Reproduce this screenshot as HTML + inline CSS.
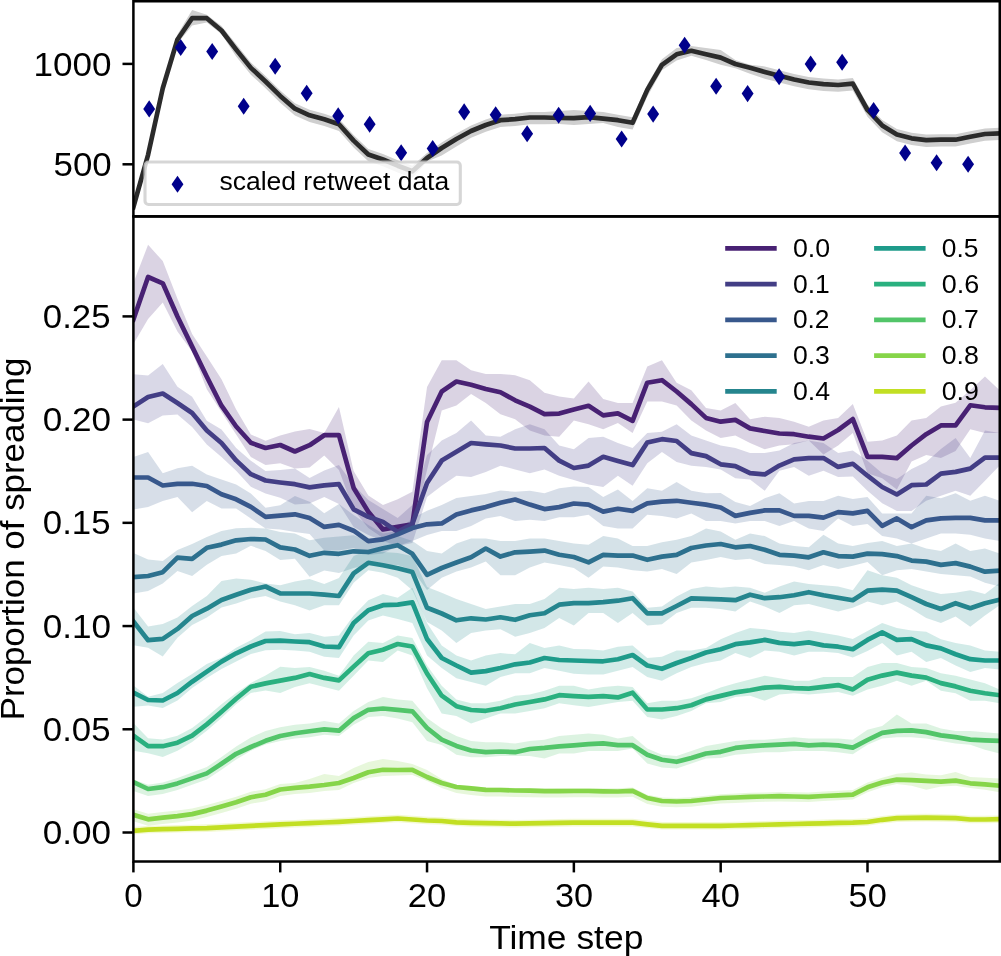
<!DOCTYPE html>
<html><head><meta charset="utf-8"><title>Proportion of spreading</title>
<style>html,body{margin:0;padding:0;background:#fff;width:1001px;height:956px;overflow:hidden}
text{font-family:"Liberation Sans",sans-serif}
svg{will-change:transform}</style></head>
<body>
<svg width="1001" height="956" viewBox="0 0 1001 956" style="display:block">
<defs><clipPath id="cb"><rect x="133.40" y="216.40" width="866.35" height="645.10"/></clipPath>
<clipPath id="ct"><rect x="133.40" y="1.25" width="866.35" height="215.15"/></clipPath></defs>
<rect width="1001" height="956" fill="#fff"/>
<g clip-path="url(#cb)">
<polygon points="133.40,283.00 148.08,244.80 162.76,261.10 177.45,298.80 192.13,334.00 206.81,356.60 221.49,379.20 236.17,409.40 250.86,434.50 265.54,440.80 280.22,435.40 294.90,431.60 309.58,429.10 324.27,432.90 338.95,407.00 353.63,471.00 368.31,495.50 382.99,504.90 397.68,499.20 412.36,491.70 427.04,387.00 441.72,360.20 456.40,360.20 471.09,370.20 485.77,374.00 500.45,374.00 515.13,375.20 529.81,380.30 544.50,392.80 559.18,396.60 573.86,398.50 588.54,381.50 603.22,399.10 617.91,402.90 632.59,402.90 647.27,366.40 661.95,360.20 676.63,382.80 691.32,390.30 706.00,407.90 720.68,410.40 735.36,402.90 750.04,419.20 764.73,416.70 779.41,417.90 794.09,421.70 808.77,426.70 823.45,420.50 838.14,417.90 852.82,404.10 867.50,441.80 882.18,440.50 896.86,435.50 911.55,420.40 926.23,417.90 940.91,406.60 955.59,402.80 970.27,390.30 984.96,376.40 999.64,390.30 999.64,433.00 984.96,433.00 970.27,429.20 955.59,451.00 940.91,458.00 926.23,455.00 911.55,461.50 896.86,489.50 882.18,478.20 867.50,473.20 852.82,433.00 838.14,445.60 823.45,454.40 808.77,440.60 794.09,444.30 779.41,445.60 764.73,449.30 750.04,443.10 735.36,435.50 720.68,438.00 706.00,430.50 691.32,420.50 676.63,405.40 661.95,401.60 647.27,401.60 632.59,433.00 617.91,423.00 603.22,429.20 588.54,424.20 573.86,420.50 559.18,436.80 544.50,435.50 529.81,430.50 515.13,419.20 500.45,414.20 485.77,402.90 471.09,394.10 456.40,405.40 441.72,410.40 427.04,470.00 412.36,531.20 397.68,533.10 382.99,538.00 368.31,528.00 353.63,510.00 338.95,470.00 324.27,455.50 309.58,467.50 294.90,468.40 280.22,463.30 265.54,465.00 250.86,457.10 236.17,434.50 221.49,411.90 206.81,389.30 192.13,351.60 177.45,331.50 162.76,302.60 148.08,318.90 133.40,344.00" fill="#482173" fill-opacity="0.2"/>
<polygon points="133.40,374.20 148.08,375.40 162.76,364.10 177.45,386.80 192.13,396.80 206.81,420.70 221.49,429.50 236.17,448.00 250.86,460.70 265.54,470.90 280.22,470.00 294.90,468.40 309.58,478.00 324.27,470.60 338.95,465.00 353.63,485.00 368.31,500.00 382.99,509.00 397.68,518.00 412.36,505.00 427.04,455.00 441.72,440.60 456.40,433.00 471.09,420.50 485.77,435.50 500.45,436.80 515.13,429.20 529.81,424.20 544.50,429.20 559.18,445.60 573.86,449.30 588.54,438.00 603.22,436.80 617.91,443.10 632.59,448.10 647.27,433.00 661.95,431.80 676.63,424.20 691.32,435.50 706.00,440.60 720.68,445.60 735.36,448.10 750.04,453.10 764.73,453.10 779.41,450.60 794.09,443.10 808.77,440.60 823.45,443.10 838.14,453.10 852.82,450.60 867.50,460.70 882.18,473.20 896.86,479.00 911.55,469.00 926.23,462.00 940.91,449.00 955.59,438.00 970.27,458.10 984.96,430.50 999.64,433.00 999.64,465.60 984.96,480.70 970.27,495.80 955.59,490.80 940.91,495.80 926.23,500.80 911.55,510.90 896.86,510.90 882.18,503.30 867.50,490.80 852.82,476.50 838.14,477.00 823.45,470.70 808.77,475.70 794.09,466.90 779.41,470.70 764.73,490.80 750.04,479.50 735.36,478.20 720.68,469.50 706.00,466.90 691.32,465.70 676.63,461.90 661.95,451.90 647.27,463.20 632.59,485.80 617.91,475.70 603.22,487.00 588.54,484.50 573.86,480.00 559.18,475.70 544.50,469.40 529.81,473.20 515.13,469.40 500.45,465.70 485.77,472.00 471.09,477.00 456.40,475.70 441.72,485.80 427.04,497.00 412.36,543.00 397.68,546.00 382.99,541.00 368.31,535.00 353.63,527.00 338.95,504.00 324.27,497.00 309.58,503.50 294.90,504.40 280.22,497.70 265.54,493.50 250.86,486.80 236.17,470.70 221.49,457.10 206.81,444.50 192.13,427.00 177.45,414.40 162.76,415.60 148.08,423.20 133.40,419.40" fill="#433e85" fill-opacity="0.2"/>
<polygon points="133.40,456.90 148.08,451.90 162.76,473.20 177.45,468.20 192.13,465.70 206.81,474.50 221.49,479.50 236.17,484.50 250.86,493.50 265.54,507.70 280.22,505.20 294.90,496.00 309.58,501.80 324.27,513.30 338.95,504.00 353.63,515.00 368.31,525.00 382.99,533.40 397.68,530.90 412.36,518.30 427.04,510.80 441.72,505.00 456.40,498.00 471.09,496.00 485.77,494.00 500.45,490.60 515.13,491.70 529.81,490.80 544.50,493.30 559.18,488.30 573.86,486.50 588.54,487.00 603.22,497.10 617.91,489.50 632.59,500.90 647.27,488.30 661.95,490.80 676.63,482.00 691.32,490.80 706.00,493.30 720.68,493.00 735.36,502.10 750.04,505.90 764.73,498.30 779.41,493.30 794.09,503.40 808.77,500.90 823.45,500.90 838.14,495.80 852.82,499.00 867.50,497.00 882.18,513.40 896.86,513.40 911.55,513.40 926.23,495.80 940.91,498.30 955.59,493.30 970.27,500.80 984.96,495.80 999.64,500.80 999.64,541.00 984.96,538.50 970.27,534.70 955.59,533.50 940.91,533.50 926.23,538.50 911.55,543.50 896.86,538.50 882.18,536.00 867.50,524.00 852.82,526.00 838.14,518.40 823.45,531.00 808.77,528.50 794.09,521.00 779.41,526.00 764.73,521.00 750.04,521.00 735.36,523.50 720.68,521.00 706.00,521.00 691.32,513.40 676.63,518.40 661.95,515.90 647.27,514.70 632.59,528.50 617.91,528.50 603.22,526.00 588.54,514.70 573.86,517.20 559.18,517.20 544.50,521.00 529.81,519.70 515.13,521.00 500.45,515.90 485.77,518.40 471.09,526.00 456.40,531.00 441.72,531.00 427.04,535.00 412.36,540.90 397.68,545.90 382.99,553.50 368.31,555.00 353.63,547.90 338.95,550.40 324.27,550.40 309.58,534.00 294.90,532.00 280.22,529.50 265.54,528.60 250.86,518.60 236.17,508.40 221.49,508.40 206.81,500.90 192.13,512.20 177.45,497.00 162.76,500.90 148.08,507.10 133.40,509.60" fill="#38588c" fill-opacity="0.2"/>
<polygon points="133.40,553.00 148.08,559.60 162.76,561.00 177.45,550.00 192.13,544.00 206.81,537.00 221.49,531.00 236.17,528.30 250.86,527.80 265.54,528.60 280.22,532.00 294.90,533.60 309.58,540.30 324.27,537.80 338.95,536.60 353.63,535.30 368.31,540.90 382.99,535.90 397.68,535.90 412.36,540.90 427.04,551.00 441.72,553.60 456.40,543.60 471.09,538.50 485.77,538.50 500.45,541.00 515.13,541.00 529.81,538.50 544.50,538.50 559.18,541.00 573.86,543.60 588.54,544.80 603.22,536.00 617.91,538.50 632.59,546.10 647.27,546.10 661.95,542.30 676.63,539.80 691.32,536.00 706.00,528.50 720.68,531.60 735.36,539.80 750.04,533.50 764.73,536.00 779.41,543.60 794.09,546.10 808.77,547.30 823.45,534.80 838.14,543.60 852.82,546.00 867.50,543.00 882.18,541.00 896.86,546.00 911.55,543.50 926.23,548.50 940.91,551.00 955.59,543.50 970.27,551.00 984.96,548.50 999.64,553.60 999.64,586.50 984.96,582.70 970.27,576.40 955.59,575.20 940.91,573.90 926.23,571.40 911.55,568.90 896.86,570.20 882.18,575.20 867.50,562.00 852.82,565.70 838.14,568.90 823.45,565.10 808.77,570.20 794.09,566.40 779.41,565.10 764.73,563.90 750.04,558.80 735.36,560.10 720.68,556.90 706.00,560.10 691.32,562.60 676.63,573.90 661.95,568.90 647.27,571.40 632.59,570.20 617.91,567.60 603.22,566.40 588.54,577.70 573.86,568.00 559.18,565.10 544.50,562.60 529.81,567.60 515.13,575.20 500.45,575.20 485.77,561.40 471.09,567.60 456.40,571.40 441.72,577.70 427.04,590.00 412.36,570.00 397.68,565.00 382.99,566.00 368.31,565.00 353.63,568.00 338.95,573.00 324.27,570.50 309.58,576.80 294.90,558.80 280.22,560.00 265.54,550.90 250.86,545.80 236.17,553.40 221.49,555.90 206.81,564.70 192.13,576.00 177.45,571.00 162.76,583.50 148.08,591.00 133.40,593.60" fill="#2d708e" fill-opacity="0.2"/>
<polygon points="133.40,607.50 148.08,626.40 162.76,623.90 177.45,617.60 192.13,606.00 206.81,596.00 221.49,581.00 236.17,578.50 250.86,579.70 265.54,583.50 280.22,585.20 294.90,581.50 309.58,579.00 324.27,584.00 338.95,578.00 353.63,556.00 368.31,550.00 382.99,552.00 397.68,553.00 412.36,556.00 427.04,587.00 441.72,592.80 456.40,599.00 471.09,604.10 485.77,609.10 500.45,606.60 515.13,604.10 529.81,604.10 544.50,599.00 559.18,587.70 573.86,589.00 588.54,587.70 603.22,589.00 617.91,587.70 632.59,591.50 647.27,607.80 661.95,606.60 676.63,596.50 691.32,589.00 706.00,586.50 720.68,587.70 735.36,586.50 750.04,587.70 764.73,592.80 779.41,586.50 794.09,581.50 808.77,584.00 823.45,585.20 838.14,586.50 852.82,590.30 867.50,570.20 882.18,575.20 896.86,577.70 911.55,585.20 926.23,590.30 940.91,594.00 955.59,592.80 970.27,590.30 984.96,594.00 999.64,582.70 999.64,605.30 984.96,615.40 970.27,626.70 955.59,616.60 940.91,622.90 926.23,617.90 911.55,609.10 896.86,601.60 882.18,605.30 867.50,601.50 852.82,607.80 838.14,611.60 823.45,607.80 808.77,604.10 794.09,605.30 779.41,612.90 764.73,606.60 750.04,601.60 735.36,611.60 720.68,609.10 706.00,607.80 691.32,607.80 676.63,612.90 661.95,624.20 647.27,625.40 632.59,612.90 617.91,622.90 603.22,612.90 588.54,612.90 573.86,625.40 559.18,617.90 544.50,627.90 529.81,633.00 515.13,636.70 500.45,629.20 485.77,630.50 471.09,633.00 456.40,643.00 441.72,630.50 427.04,622.00 412.36,590.30 397.68,577.70 382.99,572.70 368.31,570.20 353.63,582.70 338.95,605.30 324.27,605.30 309.58,610.40 294.90,605.30 280.22,601.60 265.54,596.00 250.86,598.60 236.17,603.60 221.49,607.40 206.81,617.60 192.13,625.00 177.45,637.70 162.76,656.50 148.08,647.70 133.40,645.20" fill="#25858e" fill-opacity="0.2"/>
<polygon points="133.40,685.40 148.08,696.70 162.76,693.00 177.45,682.90 192.13,674.10 206.81,664.00 221.49,657.80 236.17,647.70 250.86,640.20 265.54,631.40 280.22,631.00 294.90,634.20 309.58,633.00 324.27,636.70 338.95,635.50 353.63,615.40 368.31,600.30 382.99,594.00 397.68,597.80 412.36,587.70 427.04,622.90 441.72,645.50 456.40,655.60 471.09,660.60 485.77,655.60 500.45,653.10 515.13,654.30 529.81,643.00 544.50,648.00 559.18,645.50 573.86,649.00 588.54,649.30 603.22,650.60 617.91,646.80 632.59,645.50 647.27,658.10 661.95,656.80 676.63,650.60 691.32,650.60 706.00,648.00 720.68,639.20 735.36,633.00 750.04,627.90 764.73,629.20 779.41,631.70 794.09,633.00 808.77,630.50 823.45,633.00 838.14,635.50 852.82,639.00 867.50,631.00 882.18,622.90 896.86,627.90 911.55,630.50 926.23,631.70 940.91,639.20 955.59,643.00 970.27,645.50 984.96,650.60 999.64,651.80 999.64,669.40 984.96,668.10 970.27,671.90 955.59,665.60 940.91,658.10 926.23,661.90 911.55,651.80 896.86,655.60 882.18,643.00 867.50,651.00 852.82,657.50 838.14,653.10 823.45,651.80 808.77,651.80 794.09,655.60 779.41,651.80 764.73,650.60 750.04,658.10 735.36,653.10 720.68,660.60 706.00,663.10 691.32,666.90 676.63,673.20 661.95,680.70 647.27,676.90 632.59,666.90 617.91,670.70 603.22,674.40 588.54,674.40 573.86,673.80 559.18,670.70 544.50,668.10 529.81,673.20 515.13,673.20 500.45,676.90 485.77,685.70 471.09,682.00 456.40,678.20 441.72,668.10 427.04,655.60 412.36,622.90 397.68,619.10 382.99,615.40 368.31,620.40 353.63,635.50 338.95,658.10 324.27,656.80 309.58,651.80 294.90,650.60 280.22,649.80 265.54,650.30 250.86,654.00 236.17,661.60 221.49,669.10 206.81,677.90 192.13,688.00 177.45,700.50 162.76,708.00 148.08,705.50 133.40,706.80" fill="#1e9b8a" fill-opacity="0.2"/>
<polygon points="133.40,723.10 148.08,738.20 162.76,739.40 177.45,735.70 192.13,728.10 206.81,716.80 221.49,704.30 236.17,693.00 250.86,682.90 265.54,675.40 280.22,666.80 294.90,668.10 309.58,666.90 324.27,670.70 338.95,675.70 353.63,655.60 368.31,641.80 382.99,643.00 397.68,635.50 412.36,638.00 427.04,665.60 441.72,685.70 456.40,699.50 471.09,703.30 485.77,703.30 500.45,700.80 515.13,695.80 529.81,694.50 544.50,690.80 559.18,685.70 573.86,685.70 588.54,689.50 603.22,687.00 617.91,685.70 632.59,687.00 647.27,703.30 661.95,700.80 676.63,700.80 691.32,698.30 706.00,693.30 720.68,687.60 735.36,683.20 750.04,679.40 764.73,675.70 779.41,678.20 794.09,680.70 808.77,680.70 823.45,676.90 838.14,676.90 852.82,676.90 867.50,667.00 882.18,663.10 896.86,663.10 911.55,666.90 926.23,668.10 940.91,673.20 955.59,675.70 970.27,679.40 984.96,683.20 999.64,689.50 999.64,703.30 984.96,700.80 970.27,700.80 955.59,693.30 940.91,690.80 926.23,680.70 911.55,685.70 896.86,680.70 882.18,685.70 867.50,689.50 852.82,695.80 838.14,692.00 823.45,693.30 808.77,694.50 794.09,693.30 779.41,694.50 764.73,700.80 750.04,695.80 735.36,697.00 720.68,702.00 706.00,703.30 691.32,710.90 676.63,715.90 661.95,719.60 647.27,717.10 632.59,700.80 617.91,702.10 603.22,704.60 588.54,707.10 573.86,705.20 559.18,703.30 544.50,708.30 529.81,710.90 515.13,713.40 500.45,713.40 485.77,718.40 471.09,723.40 456.40,715.90 441.72,713.40 427.04,688.20 412.36,655.60 397.68,650.60 382.99,661.90 368.31,660.60 353.63,675.70 338.95,690.80 324.27,687.00 309.58,683.20 294.90,687.00 280.22,693.10 265.54,690.50 250.86,693.00 236.17,704.30 221.49,718.10 206.81,730.70 192.13,742.00 177.45,750.80 162.76,757.00 148.08,753.30 133.40,750.80" fill="#2ab07f" fill-opacity="0.2"/>
<polygon points="133.40,779.60 148.08,784.70 162.76,782.40 177.45,778.10 192.13,772.60 206.81,767.10 221.49,757.00 236.17,746.50 250.86,737.40 265.54,731.10 280.22,727.20 294.90,724.70 309.58,723.40 324.27,720.90 338.95,723.40 353.63,710.90 368.31,702.10 382.99,697.00 397.68,699.50 412.36,700.80 427.04,718.00 441.72,728.40 456.40,736.00 471.09,741.00 485.77,742.30 500.45,742.30 515.13,743.50 529.81,741.00 544.50,739.70 559.18,736.00 573.86,734.70 588.54,733.50 603.22,734.70 617.91,738.50 632.59,736.00 647.27,748.50 661.95,754.80 676.63,756.10 691.32,751.00 706.00,746.00 720.68,743.50 735.36,741.00 750.04,739.70 764.73,739.70 779.41,738.50 794.09,737.20 808.77,738.50 823.45,738.50 838.14,738.50 852.82,739.70 867.50,729.70 882.18,725.90 896.86,714.60 911.55,723.40 926.23,723.40 940.91,728.40 955.59,731.00 970.27,731.00 984.96,732.20 999.64,733.50 999.64,753.60 984.96,749.80 970.27,744.80 955.59,743.50 940.91,741.00 926.23,738.50 911.55,737.20 896.86,737.20 882.18,738.50 867.50,744.80 852.82,754.20 838.14,752.30 823.45,751.00 808.77,751.00 794.09,751.00 779.41,752.30 764.73,752.30 750.04,753.60 735.36,754.80 720.68,758.00 706.00,758.60 691.32,763.60 676.63,768.60 661.95,767.40 647.27,763.60 632.59,748.50 617.91,751.00 603.22,751.00 588.54,751.00 573.86,753.60 559.18,753.60 544.50,758.60 529.81,756.10 515.13,756.10 500.45,756.10 485.77,757.30 471.09,757.30 456.40,754.80 441.72,745.00 427.04,741.00 412.36,722.20 397.68,718.40 382.99,715.90 368.31,717.10 353.63,724.70 338.95,736.00 324.27,734.70 309.58,737.20 294.90,738.50 280.22,741.00 265.54,744.62 250.86,750.64 236.17,759.47 221.49,769.69 206.81,779.51 192.13,784.73 177.45,789.96 162.76,793.98 148.08,796.00 133.40,791.00" fill="#52c569" fill-opacity="0.2"/>
<polygon points="133.40,809.30 148.08,813.80 162.76,812.10 177.45,810.60 192.13,808.60 206.81,805.10 221.49,801.00 236.17,796.80 250.86,791.70 265.54,789.20 280.22,784.00 294.90,783.00 309.58,779.00 324.27,774.00 338.95,776.00 353.63,768.00 368.31,762.00 382.99,759.00 397.68,761.00 412.36,764.00 427.04,770.00 441.72,779.00 456.40,785.00 471.09,786.00 485.77,787.51 500.45,787.52 515.13,787.93 529.81,788.04 544.50,788.45 559.18,788.36 573.86,788.08 588.54,787.99 603.22,788.20 617.91,788.31 632.59,787.52 647.27,794.63 661.95,797.54 676.63,797.95 691.32,797.36 706.00,795.77 720.68,794.18 735.36,793.59 750.04,792.80 764.73,792.41 779.41,792.03 794.09,792.24 808.77,792.45 823.45,791.56 838.14,790.77 852.82,789.98 867.50,782.59 882.18,777.70 896.86,773.70 911.55,772.50 926.23,774.50 940.91,775.30 955.59,772.00 970.27,776.90 984.96,777.70 999.64,778.50 999.64,792.20 984.96,789.80 970.27,788.10 955.59,785.70 940.91,786.50 926.23,789.80 911.55,785.70 896.86,784.10 882.18,787.30 867.50,792.17 852.82,799.54 838.14,800.30 823.45,801.07 808.77,801.94 794.09,801.71 779.41,801.48 764.73,801.84 750.04,802.21 735.36,802.98 720.68,803.55 706.00,805.11 691.32,806.68 676.63,807.25 661.95,806.82 647.27,803.89 632.59,796.75 617.91,797.52 603.22,797.39 588.54,797.16 573.86,797.23 559.18,797.49 544.50,797.56 529.81,797.13 515.13,797.00 500.45,796.56 485.77,796.53 471.09,795.00 456.40,793.00 441.72,788.00 427.04,781.00 412.36,775.00 397.68,775.60 382.99,776.00 368.31,778.00 353.63,783.00 338.95,790.00 324.27,791.00 309.58,793.00 294.90,794.00 280.22,796.00 265.54,801.20 250.86,803.70 236.17,808.80 221.49,813.00 206.81,817.10 192.13,820.60 177.45,822.60 162.76,824.10 148.08,825.80 133.40,821.30" fill="#86d549" fill-opacity="0.2"/>
<polygon points="133.40,827.00 148.08,825.74 162.76,825.38 177.45,825.02 192.13,824.66 206.81,824.30 221.49,823.56 236.17,822.82 250.86,822.08 265.54,821.34 280.22,820.60 294.90,819.98 309.58,819.35 324.27,818.73 338.95,818.10 353.63,817.23 368.31,816.37 382.99,815.50 397.68,814.70 412.36,815.70 427.04,816.70 441.72,817.20 456.40,818.50 471.09,819.10 485.77,819.40 500.45,819.65 515.13,819.90 529.81,819.65 544.50,819.40 559.18,819.10 573.86,818.80 588.54,818.80 603.22,818.80 617.91,818.80 632.59,818.80 647.27,820.50 661.95,822.00 676.63,822.00 691.32,822.00 706.00,822.00 720.68,822.00 735.36,821.70 750.04,821.40 764.73,820.95 779.41,820.50 794.09,820.20 808.77,819.90 823.45,819.50 838.14,819.10 852.82,818.90 867.50,818.20 882.18,816.00 896.86,814.40 911.55,814.10 926.23,813.80 940.91,814.10 955.59,814.40 970.27,815.70 984.96,815.70 999.64,815.40 999.64,823.00 984.96,823.30 970.27,823.30 955.59,822.00 940.91,821.70 926.23,821.40 911.55,821.70 896.86,822.00 882.18,823.60 867.50,825.80 852.82,826.50 838.14,826.70 823.45,827.10 808.77,827.50 794.09,827.80 779.41,828.10 764.73,828.55 750.04,829.00 735.36,829.30 720.68,829.60 706.00,829.60 691.32,829.60 676.63,829.60 661.95,829.60 647.27,828.10 632.59,826.40 617.91,826.40 603.22,826.40 588.54,826.40 573.86,826.40 559.18,826.70 544.50,827.00 529.81,827.25 515.13,827.50 500.45,827.25 485.77,827.00 471.09,826.70 456.40,826.10 441.72,824.80 427.04,824.30 412.36,823.30 397.68,822.30 382.99,823.10 368.31,823.97 353.63,824.83 338.95,825.70 324.27,826.32 309.58,826.95 294.90,827.57 280.22,828.20 265.54,828.94 250.86,829.68 236.17,830.42 221.49,831.16 206.81,831.90 192.13,832.26 177.45,832.62 162.76,832.98 148.08,833.34 133.40,834.60" fill="#c2df23" fill-opacity="0.2"/>
<polyline points="133.40,319.50 148.08,277.00 162.76,283.30 177.45,316.50 192.13,346.60 206.81,376.80 221.49,405.70 236.17,426.50 250.86,442.80 265.54,448.00 280.22,445.00 294.90,451.50 309.58,445.20 324.27,435.20 338.95,435.20 353.63,487.90 368.31,511.80 382.99,529.40 397.68,526.90 412.36,524.40 427.04,422.00 441.72,391.50 456.40,381.50 471.09,384.70 485.77,389.00 500.45,392.30 515.13,400.30 529.81,406.60 544.50,414.10 559.18,413.60 573.86,409.50 588.54,405.80 603.22,415.40 617.91,413.40 632.59,420.90 647.27,382.70 661.95,380.20 676.63,391.50 691.32,404.10 706.00,417.90 720.68,421.70 735.36,419.90 750.04,428.40 764.73,431.00 779.41,433.50 794.09,434.20 808.77,436.70 823.45,438.50 838.14,430.00 852.82,419.10 867.50,456.80 882.18,456.80 896.86,458.10 911.55,445.50 926.23,434.20 940.91,425.40 955.59,425.40 970.27,405.30 984.96,407.30 999.64,407.80" fill="none" stroke="#482173" stroke-width="4.69" stroke-linejoin="round" stroke-linecap="square"/>
<polyline points="133.40,406.50 148.08,397.00 162.76,393.50 177.45,403.00 192.13,413.00 206.81,430.50 221.49,443.00 236.17,460.40 250.86,474.20 265.54,480.50 280.22,482.50 294.90,484.20 309.58,487.40 324.27,485.40 338.95,484.20 353.63,509.30 368.31,516.80 382.99,521.90 397.68,531.90 412.36,524.00 427.04,483.00 441.72,460.60 456.40,451.80 471.09,443.00 485.77,444.30 500.45,445.50 515.13,448.50 529.81,448.50 544.50,448.00 559.18,460.60 573.86,468.00 588.54,465.60 603.22,456.80 617.91,461.10 632.59,465.10 647.27,442.50 661.95,439.20 676.63,441.00 691.32,453.10 706.00,456.10 720.68,464.30 735.36,466.10 750.04,473.20 764.73,474.40 779.41,465.60 794.09,459.30 808.77,458.10 823.45,458.10 838.14,466.90 852.82,463.80 867.50,475.70 882.18,487.00 896.86,494.50 911.55,485.20 926.23,484.50 940.91,473.70 955.59,471.90 970.27,468.60 984.96,457.60 999.64,457.60" fill="none" stroke="#433e85" stroke-width="4.69" stroke-linejoin="round" stroke-linecap="square"/>
<polyline points="133.40,477.50 148.08,477.50 162.76,485.50 177.45,483.80 192.13,483.80 206.81,486.00 221.49,494.30 236.17,499.30 250.86,506.90 265.54,516.90 280.22,515.60 294.90,514.30 309.58,518.10 324.27,526.90 338.95,524.90 353.63,530.70 368.31,541.20 382.99,539.40 397.68,534.40 412.36,528.10 427.04,524.30 441.72,523.40 456.40,514.60 471.09,510.40 485.77,507.10 500.45,502.80 515.13,499.50 529.81,504.60 544.50,509.10 559.18,507.10 573.86,503.50 588.54,504.60 603.22,511.60 617.91,508.80 632.59,510.90 647.27,503.30 661.95,501.60 676.63,500.80 691.32,502.80 706.00,504.60 720.68,507.50 735.36,515.90 750.04,512.90 764.73,510.40 779.41,510.40 794.09,515.90 808.77,515.90 823.45,517.60 838.14,512.10 852.82,513.40 867.50,510.90 882.18,525.90 896.86,518.40 911.55,527.20 926.23,520.40 940.91,518.40 955.59,517.90 970.27,517.90 984.96,520.40 999.64,520.40" fill="none" stroke="#38588c" stroke-width="4.69" stroke-linejoin="round" stroke-linecap="square"/>
<polyline points="133.40,577.20 148.08,576.00 162.76,572.20 177.45,557.60 192.13,558.90 206.81,547.80 221.49,544.60 236.17,540.30 250.86,539.00 265.54,539.50 280.22,547.40 294.90,549.50 309.58,555.80 324.27,552.80 338.95,553.80 353.63,551.30 368.31,552.00 382.99,548.20 397.68,545.20 412.36,553.80 427.04,574.80 441.72,568.00 456.40,562.50 471.09,557.30 485.77,548.50 500.45,556.60 515.13,552.30 529.81,551.60 544.50,550.60 559.18,554.80 573.86,557.00 588.54,562.40 603.22,554.80 617.91,555.60 632.59,555.60 647.27,559.80 661.95,556.60 676.63,554.80 691.32,548.00 706.00,545.50 720.68,544.00 735.36,547.30 750.04,546.00 764.73,549.80 779.41,554.80 794.09,555.60 808.77,557.30 823.45,552.30 838.14,556.10 852.82,556.60 867.50,553.60 882.18,554.10 896.86,556.10 911.55,560.60 926.23,561.60 940.91,564.90 955.59,563.10 970.27,566.60 984.96,571.70 999.64,570.70" fill="none" stroke="#2d708e" stroke-width="4.69" stroke-linejoin="round" stroke-linecap="square"/>
<polyline points="133.40,621.40 148.08,640.20 162.76,638.90 177.45,628.90 192.13,616.00 206.81,608.70 221.49,600.00 236.17,594.80 250.86,589.80 265.54,586.50 280.22,593.30 294.90,593.50 309.58,593.50 324.27,594.70 338.95,596.00 353.63,573.40 368.31,562.80 382.99,565.30 397.68,568.30 412.36,572.10 427.04,607.80 441.72,613.50 456.40,620.30 471.09,618.30 485.77,619.50 500.45,617.30 515.13,619.80 529.81,615.30 544.50,613.30 559.18,604.70 573.86,603.20 588.54,603.20 603.22,602.20 617.91,600.70 632.59,598.20 647.27,613.30 661.95,613.30 676.63,606.00 691.32,598.40 706.00,598.90 720.68,599.30 735.36,600.20 750.04,594.70 764.73,598.20 779.41,597.20 794.09,595.20 808.77,592.20 823.45,595.20 838.14,597.70 852.82,600.20 867.50,590.70 882.18,589.60 896.86,590.70 911.55,597.20 926.23,604.00 940.91,609.00 955.59,603.20 970.27,608.20 984.96,603.20 999.64,599.70" fill="none" stroke="#25858e" stroke-width="4.69" stroke-linejoin="round" stroke-linecap="square"/>
<polyline points="133.40,692.50 148.08,700.00 162.76,700.50 177.45,693.00 192.13,681.70 206.81,671.60 221.49,661.60 236.17,653.30 250.86,646.50 265.54,641.00 280.22,640.60 294.90,641.50 309.58,642.20 324.27,646.50 338.95,647.20 353.63,623.00 368.31,610.20 382.99,605.20 397.68,604.60 412.36,602.40 427.04,639.00 441.72,658.00 456.40,665.50 471.09,672.60 485.77,671.10 500.45,668.00 515.13,664.30 529.81,662.50 544.50,658.00 559.18,660.00 573.86,660.50 588.54,661.00 603.22,661.30 617.91,659.20 632.59,655.00 647.27,665.50 661.95,668.80 676.63,663.00 691.32,658.00 706.00,652.50 720.68,649.20 735.36,644.20 750.04,642.40 764.73,639.90 779.41,642.90 794.09,644.20 808.77,642.40 823.45,645.40 838.14,646.70 852.82,649.20 867.50,639.90 882.18,632.40 896.86,639.90 911.55,639.10 926.23,645.40 940.91,648.40 955.59,654.20 970.27,659.20 984.96,660.50 999.64,660.50" fill="none" stroke="#1e9b8a" stroke-width="4.69" stroke-linejoin="round" stroke-linecap="square"/>
<polyline points="133.40,735.70 148.08,746.20 162.76,746.20 177.45,742.70 192.13,735.70 206.81,724.40 221.49,711.80 236.17,698.70 250.86,686.70 265.54,683.40 280.22,680.60 294.90,677.90 309.58,674.10 324.27,677.90 338.95,680.40 353.63,666.60 368.31,653.30 382.99,649.70 397.68,644.00 412.36,646.50 427.04,673.50 441.72,695.70 456.40,706.20 471.09,710.00 485.77,710.80 500.45,708.20 515.13,704.50 529.81,702.00 544.50,699.40 559.18,695.20 573.86,696.20 588.54,696.90 603.22,696.20 617.91,697.40 632.59,692.70 647.27,709.50 661.95,709.50 676.63,708.20 691.32,705.20 706.00,699.40 720.68,695.90 735.36,692.40 750.04,690.20 764.73,687.60 779.41,686.90 794.09,688.10 808.77,688.60 823.45,686.90 838.14,685.10 852.82,689.40 867.50,679.70 882.18,675.60 896.86,672.60 911.55,675.60 926.23,677.60 940.91,683.10 955.59,686.40 970.27,690.70 984.96,693.20 999.64,695.20" fill="none" stroke="#2ab07f" stroke-width="4.69" stroke-linejoin="round" stroke-linecap="square"/>
<polyline points="133.40,782.00 148.08,789.00 162.76,787.20 177.45,783.40 192.13,778.40 206.81,773.40 221.49,763.80 236.17,753.80 250.86,747.00 265.54,740.80 280.22,736.00 294.90,733.20 309.58,731.20 324.27,729.40 338.95,730.70 353.63,718.10 368.31,709.80 382.99,708.50 397.68,709.80 412.36,711.30 427.04,728.00 441.72,739.60 456.40,745.90 471.09,750.50 485.77,752.20 500.45,751.50 515.13,752.20 529.81,749.00 544.50,747.90 559.18,746.40 573.86,745.30 588.54,744.20 603.22,743.40 617.91,745.20 632.59,745.20 647.27,754.70 661.95,759.70 676.63,761.80 691.32,758.00 706.00,753.50 720.68,751.80 735.36,747.90 750.04,746.40 764.73,745.40 779.41,744.70 794.09,743.90 808.77,745.40 823.45,744.70 838.14,745.40 852.82,747.60 867.50,740.00 882.18,732.90 896.86,730.90 911.55,730.40 926.23,732.10 940.91,735.40 955.59,737.10 970.27,739.60 984.96,740.40 999.64,740.90" fill="none" stroke="#52c569" stroke-width="4.69" stroke-linejoin="round" stroke-linecap="square"/>
<polyline points="133.40,814.80 148.08,819.30 162.76,817.60 177.45,816.10 192.13,814.10 206.81,810.60 221.49,806.50 236.17,802.30 250.86,797.20 265.54,794.70 280.22,789.50 294.90,787.80 309.58,786.60 324.27,785.00 338.95,783.00 353.63,778.00 368.31,772.30 382.99,769.80 397.68,770.00 412.36,769.80 427.04,777.00 441.72,783.00 456.40,787.00 471.09,788.30 485.77,789.90 500.45,790.00 515.13,790.50 529.81,790.70 544.50,791.20 559.18,791.20 573.86,791.00 588.54,791.00 603.22,791.30 617.91,791.50 632.59,790.80 647.27,798.00 661.95,801.00 676.63,801.50 691.32,801.00 706.00,799.50 720.68,798.00 735.36,797.50 750.04,796.80 764.73,796.50 779.41,796.20 794.09,796.50 808.77,796.80 823.45,796.00 838.14,795.30 852.82,794.60 867.50,787.30 882.18,782.50 896.86,779.60 911.55,780.10 926.23,780.90 940.91,781.70 955.59,780.60 970.27,783.30 984.96,784.40 999.64,785.70" fill="none" stroke="#86d549" stroke-width="4.69" stroke-linejoin="round" stroke-linecap="square"/>
<polyline points="133.40,830.80 148.08,829.54 162.76,829.18 177.45,828.82 192.13,828.46 206.81,828.10 221.49,827.36 236.17,826.62 250.86,825.88 265.54,825.14 280.22,824.40 294.90,823.77 309.58,823.15 324.27,822.52 338.95,821.90 353.63,821.03 368.31,820.17 382.99,819.30 397.68,818.50 412.36,819.50 427.04,820.50 441.72,821.00 456.40,822.30 471.09,822.90 485.77,823.20 500.45,823.45 515.13,823.70 529.81,823.45 544.50,823.20 559.18,822.90 573.86,822.60 588.54,822.60 603.22,822.60 617.91,822.60 632.59,822.60 647.27,824.30 661.95,825.80 676.63,825.80 691.32,825.80 706.00,825.80 720.68,825.80 735.36,825.50 750.04,825.20 764.73,824.75 779.41,824.30 794.09,824.00 808.77,823.70 823.45,823.30 838.14,822.90 852.82,822.70 867.50,822.00 882.18,819.80 896.86,818.20 911.55,817.90 926.23,817.60 940.91,817.90 955.59,818.20 970.27,819.50 984.96,819.50 999.64,819.20" fill="none" stroke="#c2df23" stroke-width="4.69" stroke-linejoin="round" stroke-linecap="square"/>
</g>
<g clip-path="url(#ct)">
<polygon points="133.40,201.50 148.08,149.30 162.76,82.70 177.45,34.50 192.13,9.90 206.81,14.70 221.49,26.00 236.17,44.10 250.86,62.40 265.54,76.00 280.22,90.40 294.90,103.20 309.58,109.80 324.27,113.80 338.95,118.80 353.63,135.10 368.31,149.00 382.99,154.00 397.68,160.20 412.36,165.80 427.04,153.00 441.72,142.50 456.40,133.50 471.09,125.50 485.77,119.50 500.45,114.70 515.13,113.70 529.81,112.00 544.50,112.00 559.18,111.00 573.86,110.00 588.54,111.00 603.22,112.00 617.91,114.70 632.59,117.30 647.27,84.40 661.95,59.20 676.63,48.00 691.32,45.90 706.00,48.00 720.68,50.00 735.36,59.90 750.04,64.80 764.73,66.40 779.41,70.20 794.09,74.00 808.77,77.00 823.45,78.60 838.14,79.50 852.82,78.10 867.50,104.50 882.18,119.90 896.86,129.00 911.55,132.80 926.23,134.60 940.91,134.20 955.59,134.20 970.27,131.20 984.96,128.50 999.64,127.80 999.64,140.10 984.96,140.80 970.27,143.50 955.59,146.50 940.91,146.50 926.23,146.90 911.55,145.10 896.86,141.30 882.18,132.20 867.50,116.80 852.82,90.40 838.14,91.80 823.45,90.90 808.77,89.30 794.09,86.30 779.41,82.50 764.73,78.70 750.04,73.80 735.36,68.30 720.68,64.80 706.00,59.90 691.32,55.70 676.63,60.60 661.95,70.30 647.27,96.70 632.59,129.60 617.91,127.00 603.22,123.00 588.54,124.00 573.86,125.00 559.18,124.00 544.50,124.30 529.81,124.30 515.13,126.00 500.45,127.00 485.77,131.80 471.09,137.80 456.40,146.50 441.72,155.50 427.04,161.50 412.36,178.10 397.68,172.50 382.99,166.30 368.31,161.30 353.63,147.40 338.95,131.10 324.27,126.10 309.58,122.10 294.90,115.50 280.22,102.70 265.54,88.30 250.86,74.70 236.17,56.40 221.49,34.00 206.81,22.40 192.13,25.60 177.45,43.50 162.76,95.00 148.08,161.60 133.40,213.80" fill="#cfcfcf"/>
<polyline points="133.40,207.00 148.08,154.80 162.76,88.20 177.45,39.50 192.13,18.10 206.81,18.20 221.49,30.50 236.17,49.60 250.86,67.90 265.54,81.50 280.22,95.90 294.90,108.70 309.58,115.30 324.27,119.30 338.95,124.30 353.63,140.60 368.31,154.50 382.99,159.50 397.68,165.70 412.36,171.30 427.04,158.00 441.72,148.00 456.40,139.00 471.09,131.00 485.77,125.00 500.45,120.20 515.13,119.20 529.81,117.50 544.50,117.50 559.18,118.00 573.86,118.20 588.54,117.10 603.22,118.60 617.91,120.20 632.59,122.80 647.27,89.90 661.95,64.80 676.63,54.30 691.32,50.80 706.00,54.30 720.68,57.60 735.36,64.00 750.04,67.80 764.73,71.90 779.41,75.70 794.09,79.50 808.77,82.50 823.45,84.10 838.14,85.00 852.82,83.60 867.50,110.00 882.18,125.40 896.86,134.50 911.55,138.30 926.23,140.10 940.91,139.70 955.59,139.70 970.27,136.70 984.96,134.00 999.64,133.30" fill="none" stroke="#2b2b2b" stroke-width="4.69" stroke-linejoin="round" stroke-linecap="square"/>
<polygon points="149.20,100.35 155.15,108.90 149.20,117.45 143.25,108.90" fill="#00008b"/>
<polygon points="180.70,38.95 186.65,47.50 180.70,56.05 174.75,47.50" fill="#00008b"/>
<polygon points="212.19,42.95 218.14,51.50 212.19,60.05 206.24,51.50" fill="#00008b"/>
<polygon points="243.69,97.65 249.64,106.20 243.69,114.75 237.74,106.20" fill="#00008b"/>
<polygon points="275.18,57.65 281.13,66.20 275.18,74.75 269.23,66.20" fill="#00008b"/>
<polygon points="306.68,84.75 312.63,93.30 306.68,101.85 300.73,93.30" fill="#00008b"/>
<polygon points="338.18,107.35 344.13,115.90 338.18,124.45 332.23,115.90" fill="#00008b"/>
<polygon points="369.67,115.75 375.62,124.30 369.67,132.85 363.72,124.30" fill="#00008b"/>
<polygon points="401.17,144.25 407.12,152.80 401.17,161.35 395.22,152.80" fill="#00008b"/>
<polygon points="432.66,139.95 438.61,148.50 432.66,157.05 426.71,148.50" fill="#00008b"/>
<polygon points="464.16,103.35 470.11,111.90 464.16,120.45 458.21,111.90" fill="#00008b"/>
<polygon points="495.66,106.25 501.61,114.80 495.66,123.35 489.71,114.80" fill="#00008b"/>
<polygon points="527.15,125.25 533.10,133.80 527.15,142.35 521.20,133.80" fill="#00008b"/>
<polygon points="558.65,106.75 564.60,115.30 558.65,123.85 552.70,115.30" fill="#00008b"/>
<polygon points="590.14,104.85 596.09,113.40 590.14,121.95 584.19,113.40" fill="#00008b"/>
<polygon points="621.64,130.45 627.59,139.00 621.64,147.55 615.69,139.00" fill="#00008b"/>
<polygon points="653.14,105.55 659.09,114.10 653.14,122.65 647.19,114.10" fill="#00008b"/>
<polygon points="684.63,36.65 690.58,45.20 684.63,53.75 678.68,45.20" fill="#00008b"/>
<polygon points="716.13,77.75 722.08,86.30 716.13,94.85 710.18,86.30" fill="#00008b"/>
<polygon points="747.62,85.05 753.57,93.60 747.62,102.15 741.67,93.60" fill="#00008b"/>
<polygon points="779.12,68.25 785.07,76.80 779.12,85.35 773.17,76.80" fill="#00008b"/>
<polygon points="810.62,55.45 816.57,64.00 810.62,72.55 804.67,64.00" fill="#00008b"/>
<polygon points="842.11,53.75 848.06,62.30 842.11,70.85 836.16,62.30" fill="#00008b"/>
<polygon points="873.61,101.95 879.56,110.50 873.61,119.05 867.66,110.50" fill="#00008b"/>
<polygon points="905.10,144.45 911.05,153.00 905.10,161.55 899.15,153.00" fill="#00008b"/>
<polygon points="936.60,154.15 942.55,162.70 936.60,171.25 930.65,162.70" fill="#00008b"/>
<polygon points="968.10,155.75 974.05,164.30 968.10,172.85 962.15,164.30" fill="#00008b"/>
</g>
<rect x="145" y="162.0" width="315.3" height="42.5" rx="3.5" ry="3.5" fill="#fff" fill-opacity="0.8" stroke="#cccccc" stroke-opacity="0.8" stroke-width="3.1"/>
<polygon points="177.50,175.65 183.45,184.20 177.50,192.75 171.55,184.20" fill="#00008b"/>
<g stroke="#000" stroke-width="2.5" fill="none" stroke-linecap="butt">
<rect x="133.4" y="1.25" width="866.35" height="215.15" stroke-linejoin="miter"/>
<rect x="133.4" y="216.4" width="866.35" height="645.10" stroke-linejoin="miter"/>
<line x1="122.50" y1="832.50" x2="133.4" y2="832.50"/>
<line x1="122.50" y1="729.28" x2="133.4" y2="729.28"/>
<line x1="122.50" y1="626.06" x2="133.4" y2="626.06"/>
<line x1="122.50" y1="522.84" x2="133.4" y2="522.84"/>
<line x1="122.50" y1="419.62" x2="133.4" y2="419.62"/>
<line x1="122.50" y1="316.40" x2="133.4" y2="316.40"/>
<line x1="122.50" y1="63.90" x2="133.4" y2="63.90"/>
<line x1="122.50" y1="164.30" x2="133.4" y2="164.30"/>
<line x1="133.40" y1="861.5" x2="133.40" y2="872.40"/>
<line x1="280.22" y1="861.5" x2="280.22" y2="872.40"/>
<line x1="427.04" y1="861.5" x2="427.04" y2="872.40"/>
<line x1="573.86" y1="861.5" x2="573.86" y2="872.40"/>
<line x1="720.68" y1="861.5" x2="720.68" y2="872.40"/>
<line x1="867.50" y1="861.5" x2="867.50" y2="872.40"/>
</g>
<g font-family="Liberation Sans, sans-serif" fill="#000">
<text x="42.84" y="844.10" font-size="33.14" textLength="68.32" lengthAdjust="spacingAndGlyphs">0.00</text>
<text x="42.86" y="740.88" font-size="33.14" textLength="67.67" lengthAdjust="spacingAndGlyphs">0.05</text>
<text x="42.84" y="637.66" font-size="33.14" textLength="68.32" lengthAdjust="spacingAndGlyphs">0.10</text>
<text x="42.86" y="534.44" font-size="33.14" textLength="67.67" lengthAdjust="spacingAndGlyphs">0.15</text>
<text x="42.84" y="431.22" font-size="33.14" textLength="68.32" lengthAdjust="spacingAndGlyphs">0.20</text>
<text x="42.86" y="328.00" font-size="33.14" textLength="67.67" lengthAdjust="spacingAndGlyphs">0.25</text>
<text x="33.47" y="75.80" font-size="33.43" textLength="78.09" lengthAdjust="spacingAndGlyphs">1000</text>
<text x="53.50" y="176.20" font-size="33.43" textLength="58.23" lengthAdjust="spacingAndGlyphs">500</text>
<text x="124.16" y="906.70" font-size="32.43" textLength="18.48" lengthAdjust="spacingAndGlyphs">0</text>
<text x="261.20" y="906.70" font-size="32.43" textLength="38.25" lengthAdjust="spacingAndGlyphs">10</text>
<text x="407.77" y="906.70" font-size="32.43" textLength="38.51" lengthAdjust="spacingAndGlyphs">20</text>
<text x="554.95" y="906.70" font-size="32.43" textLength="38.14" lengthAdjust="spacingAndGlyphs">30</text>
<text x="701.50" y="906.70" font-size="32.43" textLength="38.42" lengthAdjust="spacingAndGlyphs">40</text>
<text x="848.59" y="906.70" font-size="32.43" textLength="38.14" lengthAdjust="spacingAndGlyphs">50</text>
<text x="489.19" y="949.30" font-size="33.13" textLength="154.14" lengthAdjust="spacingAndGlyphs">Time step</text>
<g transform="rotate(-90)"><text x="-720.39" y="24.00" font-size="33.63" textLength="362.79" lengthAdjust="spacingAndGlyphs">Proportion of spreading</text></g>
<text x="219.40" y="190.40" font-size="25.38" textLength="229.85" lengthAdjust="spacingAndGlyphs">scaled retweet data</text>
<line x1="725.20" y1="248.30" x2="776.70" y2="248.30" stroke="#482173" stroke-width="4.69"/>
<text x="792.93" y="256.80" font-size="25.29" textLength="37.18" lengthAdjust="spacingAndGlyphs">0.0</text>
<line x1="725.20" y1="284.05" x2="776.70" y2="284.05" stroke="#433e85" stroke-width="4.69"/>
<text x="792.94" y="292.55" font-size="25.29" textLength="36.83" lengthAdjust="spacingAndGlyphs">0.1</text>
<line x1="725.20" y1="319.80" x2="776.70" y2="319.80" stroke="#38588c" stroke-width="4.69"/>
<text x="792.95" y="328.30" font-size="25.29" textLength="36.57" lengthAdjust="spacingAndGlyphs">0.2</text>
<line x1="725.20" y1="355.55" x2="776.70" y2="355.55" stroke="#2d708e" stroke-width="4.69"/>
<text x="792.94" y="364.05" font-size="25.29" textLength="36.94" lengthAdjust="spacingAndGlyphs">0.3</text>
<line x1="725.20" y1="391.30" x2="776.70" y2="391.30" stroke="#25858e" stroke-width="4.69"/>
<text x="792.93" y="399.80" font-size="25.29" textLength="37.16" lengthAdjust="spacingAndGlyphs">0.4</text>
<line x1="874.10" y1="248.30" x2="925.60" y2="248.30" stroke="#1e9b8a" stroke-width="4.69"/>
<text x="941.74" y="256.80" font-size="25.29" textLength="36.67" lengthAdjust="spacingAndGlyphs">0.5</text>
<line x1="874.10" y1="284.05" x2="925.60" y2="284.05" stroke="#2ab07f" stroke-width="4.69"/>
<text x="941.72" y="292.55" font-size="25.29" textLength="37.45" lengthAdjust="spacingAndGlyphs">0.6</text>
<line x1="874.10" y1="319.80" x2="925.60" y2="319.80" stroke="#52c569" stroke-width="4.69"/>
<text x="941.74" y="328.30" font-size="25.29" textLength="36.96" lengthAdjust="spacingAndGlyphs">0.7</text>
<line x1="874.10" y1="355.55" x2="925.60" y2="355.55" stroke="#86d549" stroke-width="4.69"/>
<text x="941.73" y="364.05" font-size="25.29" textLength="37.18" lengthAdjust="spacingAndGlyphs">0.8</text>
<line x1="874.10" y1="391.30" x2="925.60" y2="391.30" stroke="#c2df23" stroke-width="4.69"/>
<text x="941.73" y="399.80" font-size="25.29" textLength="37.20" lengthAdjust="spacingAndGlyphs">0.9</text>
</g>
</svg>
</body></html>
